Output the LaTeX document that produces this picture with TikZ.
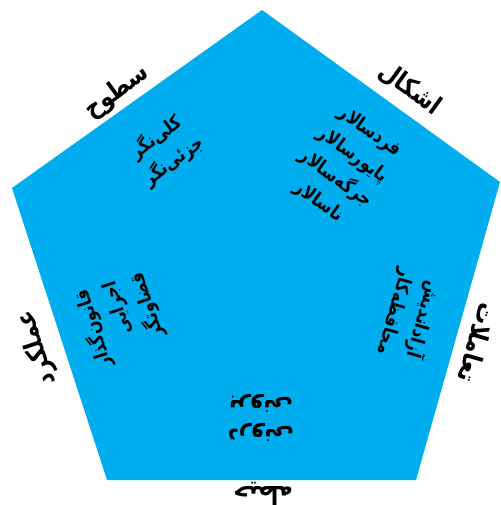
\documentclass[tikz,border=0pt]{standalone}
\usepackage{fontspec}
\newfontfamily\arabicfont[Script=Arabic, FakeStretch=0.85]{DejaVu Sans}
\TeXXeTstate=1
\usepackage{tikz}
\usetikzlibrary{positioning}
\definecolor{pentblue}{RGB}{0,173,239}

\begin{document}
\begin{tikzpicture}[
  x=1pt, y=-1pt,
  sidelbl/.style={font=\arabicfont\bfseries\fontsize{26}{30}\selectfont, inner sep=0pt},
  innerlbl/.style={font=\arabicfont\bfseries\fontsize{19}{29}\selectfont, align=center, inner sep=0pt}
]
  \useasboundingbox (0,0) rectangle (500,505);
  \coordinate (top) at (262,10);
  \coordinate (rgt) at (500,182);
  \coordinate (brt) at (416,480);
  \coordinate (blt) at (107,480);
  \coordinate (lft) at (12,188);
  \fill[pentblue] (top) -- (rgt) -- (brt) -- (blt) -- (lft) -- cycle;
  \node[sidelbl, rotate=36] (levels) at (117,92) {\beginR سطوح\endR};
  \node[sidelbl, rotate=-36] (forms) at (410,89) {\beginR اشکال\endR};
  \node[sidelbl, rotate=108] (func) at (37,348) {\beginR عملکرد\endR};
  \node[sidelbl, rotate=-106] (inter) at (478,343) {\beginR تعاملات\endR};
  \node[sidelbl, rotate=180] (scope) at (263,494) {\beginR حیطه\endR};
  \node[innerlbl, rotate=36] (levelsin) at (165,149) {\beginR کلی‌نگر\endR\\\beginR جزئی‌نگر\endR};
  \node[innerlbl, rotate=-36] (formsin) at (344,167) {\beginR فردسالار\endR\\\beginR پایورسالار\endR\\\beginR جرگه‌سالار\endR\\\beginR ناسالار\endR};
  \node[innerlbl, rotate=108, align=right] (funcin) at (121,320) {\beginR قانون‌گذار\endR\\\beginR اجرایی\endR\\\beginR قضاوتگر\endR};
  \node[innerlbl, rotate=-106] (interin) at (410,316) {\beginR آزاداندیش\endR\\\beginR محافظه‌کار\endR};
  \node[innerlbl, rotate=180, font=\arabicfont\bfseries\fontsize{25}{29}\selectfont] (scopein) at (261,418) {\beginR درونی\endR\\\beginR برونی\endR};
\end{tikzpicture}
\end{document}
